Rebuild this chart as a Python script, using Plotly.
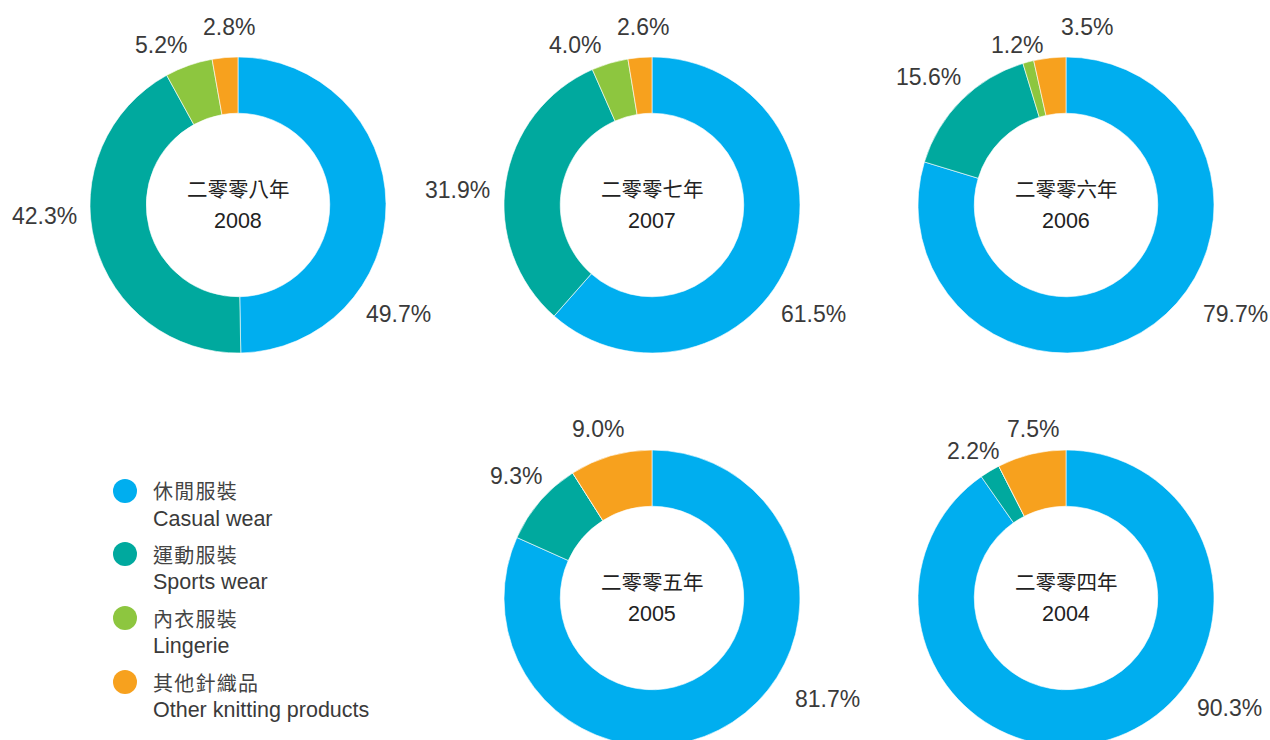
import plotly.graph_objects as go

W, H = 1270, 760

categories_zh = ["休閒服裝", "運動服裝", "內衣服裝", "其他針織品"]
categories_en = ["Casual wear", "Sports wear", "Lingerie", "Other knitting products"]
colors = ["#00AEEF", "#00A99E", "#8DC63F", "#F7A11E"]

years = ["2008", "2007", "2006", "2005", "2004"]
years_zh = ["二零零八年", "二零零七年", "二零零六年", "二零零五年", "二零零四年"]
casual = [49.7, 61.5, 79.7, 81.7, 90.3]
sports = [42.3, 31.9, 15.6, 9.3, 2.2]
lingerie = [5.2, 4.0, 1.2, 0.0, 0.0]
other = [2.8, 2.6, 3.5, 9.0, 7.5]

# layout: pie centres (px) and radius
centers = [(238, 205), (652, 205), (1066, 205), (652, 598), (1066, 598)]
R = 148
HOLE = 0.62

# label positions (px) for each slice in each year: (casual, sports, lingerie, other)
label_pos = [
    [(399, 314), (44, 216), (161, 45), (229, 27)],
    [(813, 314), (457, 190), (575, 45), (643, 27)],
    [(1235, 314), (928, 77), (1017, 45), (1087, 27)],
    [(827, 699), (516, 476), None, (598, 429)],
    [(1229, 708), (973, 451), None, (1033, 429)],
]

FONT = "Liberation Sans, Arial, Noto Sans CJK TC, sans-serif"
CJK = "Noto Sans CJK TC, Liberation Sans, sans-serif"
TXT = "#3a3a3a"

def px2x(x):
    return x / W

def px2y(y):
    return 1 - y / H

fig = go.Figure()
annotations = []
for i, yr in enumerate(years):
    cx, cy = centers[i]
    vals = [casual[i], sports[i], lingerie[i], other[i]]
    fig.add_trace(go.Pie(
        values=vals,
        labels=categories_en,
        marker=dict(colors=colors, line=dict(color="white", width=0.6)),
        hole=HOLE,
        sort=False,
        direction="clockwise",
        rotation=0,
        textinfo="none",
        hoverinfo="label+percent",
        showlegend=False,
        domain=dict(x=[px2x(cx - R), px2x(cx + R)], y=[px2y(cy + R), px2y(cy - R)]),
    ))
    for v, pos in zip(vals, label_pos[i]):
        if pos is None or v == 0:
            continue
        annotations.append(dict(
            x=px2x(pos[0]), y=px2y(pos[1]), xref="paper", yref="paper",
            text=f"{v:.1f}%", showarrow=False, xanchor="center", yanchor="middle",
            font=dict(family=FONT, size=23, color=TXT),
        ))
    annotations.append(dict(
        x=px2x(cx), y=px2y(cy - 17), xref="paper", yref="paper",
        text=years_zh[i], showarrow=False, xanchor="center", yanchor="middle",
        font=dict(family=CJK, size=20.5, color="#222222"),
    ))
    annotations.append(dict(
        x=px2x(cx), y=px2y(cy + 16), xref="paper", yref="paper",
        text=yr, showarrow=False, xanchor="center", yanchor="middle",
        font=dict(family=FONT, size=21.5, color="#222222"),
    ))

# custom legend
leg_x = 125
leg_y = [491, 554, 618, 682]
fig.add_trace(go.Scatter(
    x=[leg_x] * 4, y=leg_y, mode="markers",
    marker=dict(size=24, color=colors, line=dict(width=0)),
    hoverinfo="skip", showlegend=False,
))
for zh, en, ly in zip(categories_zh, categories_en, leg_y):
    annotations.append(dict(
        x=px2x(151), y=px2y(ly), xref="paper", yref="paper",
        text="&#8202;".join(zh), showarrow=False, xanchor="left", yanchor="middle",
        font=dict(family=CJK, size=20, color="#444444"),
    ))
    annotations.append(dict(
        x=px2x(151), y=px2y(ly + 28), xref="paper", yref="paper",
        text=en, showarrow=False, xanchor="left", yanchor="middle",
        font=dict(family=FONT, size=21.5, color=TXT),
    ))

fig.update_layout(
    width=W, height=H,
    margin=dict(l=0, r=0, t=0, b=0),
    paper_bgcolor="white", plot_bgcolor="rgba(0,0,0,0)",
    xaxis=dict(range=[0, W], visible=False, domain=[0, 1], fixedrange=True),
    yaxis=dict(range=[H, 0], visible=False, domain=[0, 1], fixedrange=True),
    annotations=annotations,
    showlegend=False,
)

fig.write_html(
    "out.html",
    config={"displayModeBar": False},
    post_script="document.body.style.margin='0';document.body.style.overflow='hidden';",
)
